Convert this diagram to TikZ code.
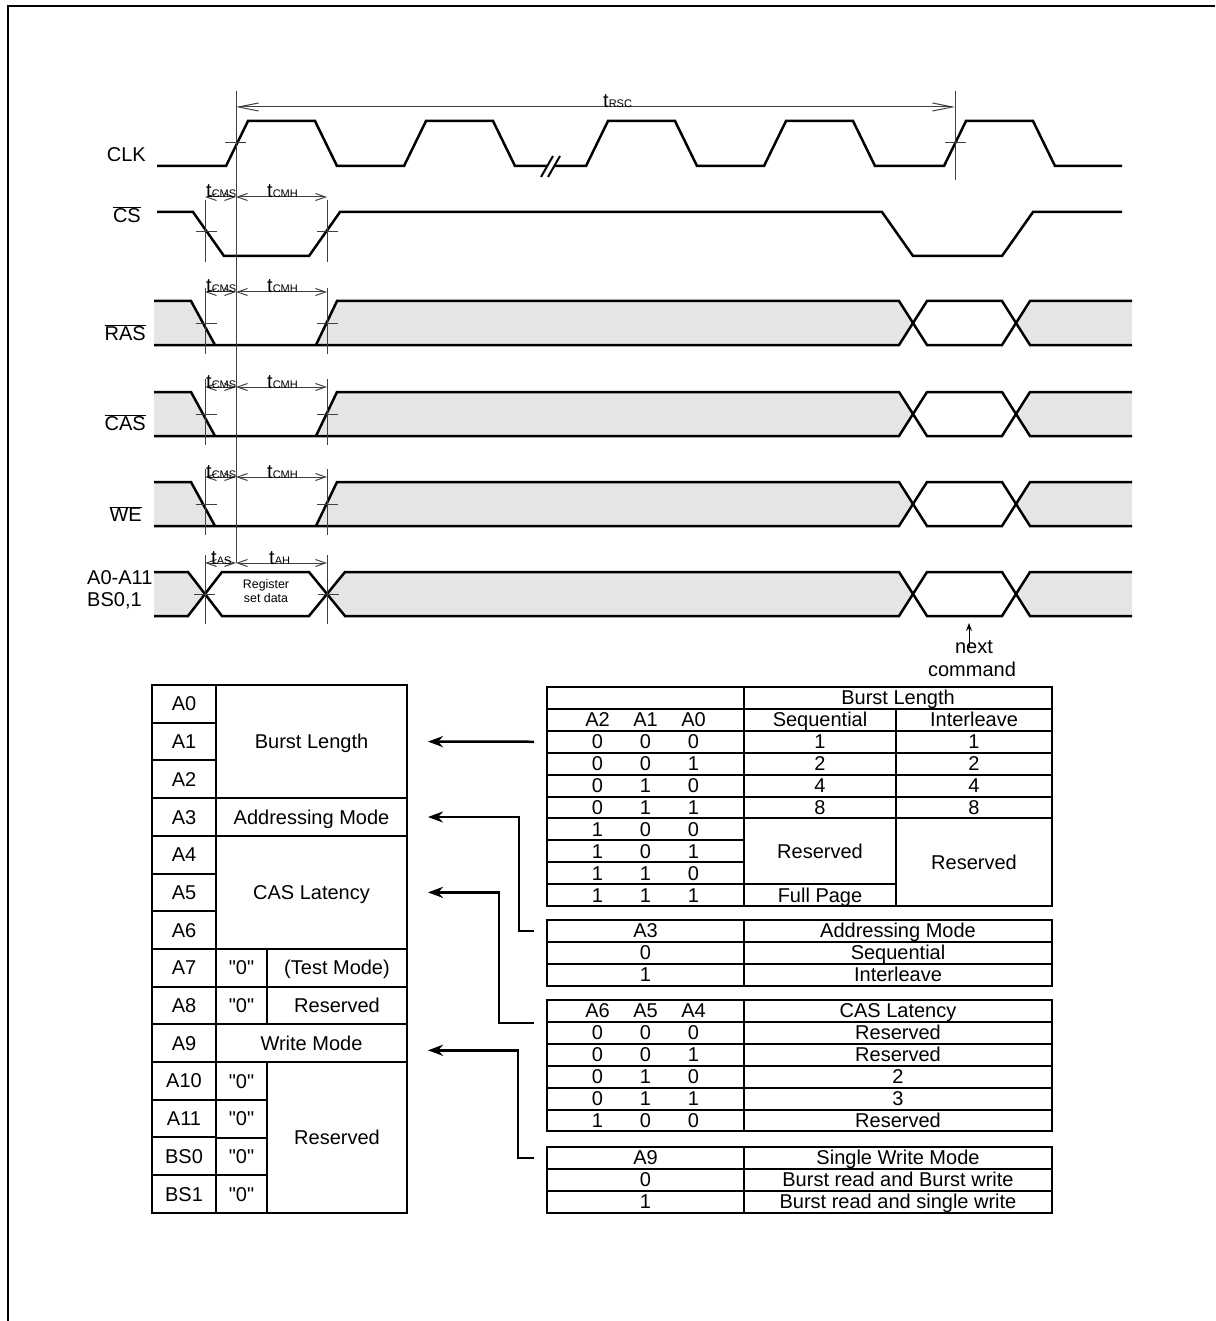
\documentclass[tikz,border=0pt]{standalone}
\usepackage{fontspec}
\setmainfont{Liberation Sans}[Ligatures=TeXOff]
\usetikzlibrary{arrows.meta}

\newcommand{\tribit}[3]{\makebox[48pt]{#1}\makebox[48pt]{#2}\makebox[48pt]{#3}}
\newcommand{\tsub}[1]{{\fontsize{11}{12}\selectfont #1}}
\newcommand{\qzero}{\symbol{34}0\symbol{34}}

\begin{document}
\begin{tikzpicture}[x=1pt,y=-1pt]
    \tikzset{cell/.style= {draw, rectangle
    , line width=2pt
    , inner sep=0pt
    , align=center
    , text height=14pt
    , text depth=0pt
    , font=\fontsize{20}{24}\selectfont
      }
    , bitcell/.style= {cell, minimum width=64pt, minimum height=37.7pt, node distance=37.7pt}
    , zerocell/.style= {cell, minimum width=51pt, minimum height=37.7pt, node distance=37.7pt}
    , namecell/.style= {cell, minimum width=140pt, minimum height=37.7pt, node distance=37.7pt}
    , fieldcell/.style= {cell, minimum width=191pt, minimum height=37.7pt}
    , tbits/.style= {cell, minimum width=197pt, minimum height=21.9pt}
    , wide/.style= {cell, minimum width=308pt, minimum height=21.9pt}
    , seqcell/.style= {cell, minimum width=152pt, minimum height=21.9pt}
    , intcell/.style= {cell, minimum width=156pt, minimum height=21.9pt}
    , signame/.style= {inner sep=0pt, font=\fontsize{20}{22}\selectfont}
    , tlabel/.style= {inner sep=0pt, anchor=base west, font=\fontsize{20}{22}\selectfont}
    , sigline/.style= {line width=2.5pt}
    , grayband/.style= {fill=black!10}
    , tickline/.style= {line width=1pt, black!75}
    , dimline/.style= {tickline, {Straight Barb[length=10pt,width=7pt]}-{Straight Barb[length=10pt,width=7pt]}}
    , conn/.style= {line width=2.5pt, -{Stealth[length=15pt,width=11pt]}}
    }

\useasboundingbox (0,0) rectangle (1215,1321);
\draw[line width=2.5pt] (8,1321) -- (8,6) -- (1215,6);

% signal names
\node[signame, anchor=east] (clkname) at (146,155) {CLK};
\node[signame, anchor=east] (csname) at (141,215) {$\overline{\mbox{CS}}$};
\node[signame, anchor=east] (rasname) at (146,333) {$\overline{\mbox{RAS}}$};
\node[signame, anchor=east] (casname) at (146,423) {$\overline{\mbox{CAS}}$};
\node[signame, anchor=east] (wename) at (142,514) {$\overline{\mbox{WE}}$};
\node[signame, anchor=west, align=left] (addrname) at (87,590) {A0-A11\\BS0,1};

% clock
\draw[sigline] (157,166) -- (226,166) -- (248,121) -- (315,121) -- (337,166) -- (404,166) -- (426,121) -- (493,121) -- (515,166) -- (547,166);
\draw[sigline] (554,166) -- (586,166) -- (608,121) -- (675,121) -- (697,166) -- (764,166) -- (786,121) -- (853,121) -- (875,166) -- (944,166) -- (966,121) -- (1033,121) -- (1055,166) -- (1122,166);
\draw[line width=2pt] (541,177) -- (553,156) (548,177) -- (560,156);

% chip select
\draw[sigline] (157,212) -- (193,212) -- (224,256) -- (309,256) -- (340,212) -- (882,212) -- (913,256) -- (1002,256) -- (1033,212) -- (1122,212);

% RAS, CAS, WE
\foreach \ytop/\yarr in {301/292,392/387,482/477} {
  \pgfmathsetmacro\ylow{\ytop+44}
  \pgfmathsetmacro\ymid{\ytop+22}
  \fill[grayband] (154,\ytop) -- (191,\ytop) -- (215,\ylow) -- (154,\ylow) -- cycle;
  \fill[grayband] (316,\ylow) -- (337,\ytop) -- (899,\ytop) -- (913,\ymid) -- (899,\ylow) -- cycle;
  \fill[grayband] (1132,\ytop) -- (1030,\ytop) -- (1016,\ymid) -- (1030,\ylow) -- (1132,\ylow) -- cycle;
  \draw[sigline] (154,\ytop) -- (191,\ytop) -- (215,\ylow);
  \draw[sigline] (154,\ylow) -- (899,\ylow) -- (927,\ytop) -- (1002,\ytop) -- (1030,\ylow) -- (1132,\ylow);
  \draw[sigline] (316,\ylow) -- (337,\ytop) -- (899,\ytop) -- (927,\ylow) -- (1002,\ylow) -- (1030,\ytop) -- (1132,\ytop);
  \draw[tickline] (205,{\ytop-13}) -- (205,{\ytop+53}) (327,{\ytop-13}) -- (327,{\ytop+53})
    (196,\ymid) -- (217,\ymid) (317,\ymid) -- (338,\ymid);
  \draw[dimline] (205,\yarr) -- (236,\yarr);
  \draw[dimline] (236,\yarr) -- (327,\yarr);
  \node[tlabel] (cms\ytop) at (206,{\yarr+1}) {t\tsub{CMS}};
  \node[tlabel] (cmh\ytop) at (267,{\yarr+1}) {t\tsub{CMH}};
}

% address
\fill[grayband] (154,572) -- (188,572) -- (205,594) -- (188,616) -- (154,616) -- cycle;
\fill[grayband] (327,594) -- (345,572) -- (899,572) -- (913,594) -- (899,616) -- (345,616) -- cycle;
\fill[grayband] (1132,572) -- (1030,572) -- (1016,594) -- (1030,616) -- (1132,616) -- cycle;
\draw[sigline] (154,572) -- (188,572) -- (222,616) -- (309,616) -- (345,572) -- (899,572) -- (927,616) -- (1002,616) -- (1030,572) -- (1132,572);
\draw[sigline] (154,616) -- (188,616) -- (222,572) -- (309,572) -- (345,616) -- (899,616) -- (927,572) -- (1002,572) -- (1030,616) -- (1132,616);
\node[align=center, inner sep=0pt, font=\fontsize{12.4}{14}\selectfont] (regdata) at (266,591.5) {Register\\set data};

% timing marks
\draw[tickline] (236,91) -- (236,563);
\draw[tickline] (955,91) -- (955,180);
\draw[tickline] (225,143) -- (246,143) (945,143) -- (966,143);
\draw[dimline, {Straight Barb[length=20pt,width=8pt]}-{Straight Barb[length=20pt,width=8pt]}] (236,107) -- (955,107);
\node[tlabel] (rsc) at (603,108) {t\tsub{RSC}};
\draw[tickline] (205,200) -- (205,262) (327,200) -- (327,262) (196,232) -- (217,232) (317,232) -- (338,232);
\draw[dimline] (205,197) -- (236,197);
\draw[dimline] (236,197) -- (327,197);
\node[tlabel] (cmscs) at (206,198) {t\tsub{CMS}};
\node[tlabel] (cmhcs) at (267,198) {t\tsub{CMH}};
\draw[tickline] (205,555) -- (205,624) (327,555) -- (327,624) (194,594) -- (215,594) (318,594) -- (339,594);
\draw[dimline] (205,563) -- (236,563);
\draw[dimline] (236,563) -- (327,563);
\node[tlabel] (aslbl) at (211,564) {t\tsub{AS}};
\node[tlabel] (ahlbl) at (269,564) {t\tsub{AH}};

\node[signame, anchor=base] (nexttxt) at (974,653) {next};
\node[signame, anchor=base] (cmdtxt) at (972,676) {command};
\coordinate (nextpt) at (969,623);
\draw[line width=1pt, -{Stealth[length=8pt,width=6pt]}] ([xshift=-5pt]nexttxt.center) -- (nextpt);

% mode register
\node[bitcell] (bit0) at (184,703.9) {A0};
\node[bitcell, below of=bit0] (bit1) {A1};
\node[bitcell, below of=bit1] (bit2) {A2};
\node[bitcell, below of=bit2] (bit3) {A3};
\node[bitcell, below of=bit3] (bit4) {A4};
\node[bitcell, below of=bit4] (bit5) {A5};
\node[bitcell, below of=bit5] (bit6) {A6};
\node[bitcell, below of=bit6] (bit7) {A7};
\node[bitcell, below of=bit7] (bit8) {A8};
\node[bitcell, below of=bit8] (bit9) {A9};
\node[bitcell, below of=bit9] (bit10) {A10};
\node[bitcell, below of=bit10] (bit11) {A11};
\node[bitcell, below of=bit11] (bit12) {BS0};
\node[bitcell, below of=bit12] (bit13) {BS1};

\node[fieldcell, minimum height=113.1pt] (burst) at (311.5,741.6) {Burst Length};
\node[fieldcell] (addr) at (311.5,817) {Addressing Mode};
\node[fieldcell, minimum height=113.1pt] (cas) at (311.5,892.4) {CAS Latency};
\node[zerocell] (zero7) at (241.5,967.9) {\qzero};
\node[namecell] (test) at (337,967.9) {(Test Mode)};
\node[zerocell, below of=zero7] (zero8) {\qzero};
\node[namecell, below of=test] (res8) {Reserved};
\node[fieldcell] (wmode) at (311.5,1043.3) {Write Mode};
\node[zerocell] (zero10) at (241.5,1081) {\qzero};
\node[zerocell, below of=zero10] (zero11) {\qzero};
\node[zerocell, below of=zero11] (zero12) {\qzero};
\node[zerocell, below of=zero12] (zero13) {\qzero};
\node[namecell, minimum height=150.9pt] (resv) at (337,1137.6) {Reserved};

% burst length table
\node[tbits] (blcorner) at (645.5,697.95) {};
\node[wide] (blhead) at (898,697.95) {Burst Length};
\node[tbits] (blbits) at (645.5,719.85) {\tribit{A2}{A1}{A0}};
\node[seqcell] (blseq) at (820,719.85) {Sequential};
\node[intcell] (blint) at (974,719.85) {Interleave};
\foreach \a/\b/\c [count=\i from 0] in {0/0/0,0/0/1,0/1/0,0/1/1,1/0/0,1/0/1,1/1/0,1/1/1}
  \node[tbits] (blrow\i) at (645.5,{741.75+21.9*\i}) {\tribit{\a}{\b}{\c}};
\foreach \v [count=\i from 0] in {1,2,4,8} {
  \node[seqcell] (blseq\i) at (820,{741.75+21.9*\i}) {\v};
  \node[intcell] (blint\i) at (974,{741.75+21.9*\i}) {\v};
}
\node[seqcell, minimum height=65.7pt] (blseqres) at (820,851.15) {Reserved};
\node[seqcell] (blfull) at (820,895.05) {Full Page};
\node[intcell, minimum height=87.6pt] (blintres) at (974,862.1) {Reserved};

% addressing mode table
\node[tbits] (amsel) at (645.5,930.95) {A3};
\node[wide] (amhead) at (898,930.95) {Addressing Mode};
\node[tbits] (am0) at (645.5,952.85) {0};
\node[wide] (amseq) at (898,952.85) {Sequential};
\node[tbits] (am1) at (645.5,974.75) {1};
\node[wide] (amint) at (898,974.75) {Interleave};

% cas latency table
\node[tbits] (clbits) at (645.5,1010.95) {\tribit{A6}{A5}{A4}};
\node[wide] (clhead) at (898,1010.95) {CAS Latency};
\foreach \a/\b/\c/\v [count=\i from 1] in {0/0/0/Reserved,0/0/1/Reserved,0/1/0/2,0/1/1/3,1/0/0/Reserved} {
  \node[tbits] (clrow\i) at (645.5,{1010.95+21.9*\i}) {\tribit{\a}{\b}{\c}};
  \node[wide] (clval\i) at (898,{1010.95+21.9*\i}) {\v};
}

% write mode table
\node[tbits] (wmsel) at (645.5,1157.95) {A9};
\node[wide] (wmhead) at (898,1157.95) {Single Write Mode};
\node[tbits] (wm0) at (645.5,1179.85) {0};
\node[wide] (wmburst) at (898,1179.85) {Burst read and Burst write};
\node[tbits] (wm1) at (645.5,1201.75) {1};
\node[wide] (wmsingle) at (898,1201.75) {Burst read and single write};

 \draw[conn] ([xshift=-12pt]blrow0.west) -- ([xshift=20pt]burst.east);
 \draw[conn] ([xshift=-12pt]amsel.west) -| ([xshift=111pt]addr.east) -- ([xshift=20pt]addr.east);
 \draw[conn] ([xshift=-12pt]clbits.south west) -| ([xshift=91pt]cas.east) -- ([xshift=20pt]cas.east);
 \draw[conn] ([xshift=-12pt]wmsel.west) -| ([xshift=110pt,yshift=-7pt]wmode.east) -- ([xshift=20pt,yshift=-7pt]wmode.east);
\end{tikzpicture}
\end{document}
